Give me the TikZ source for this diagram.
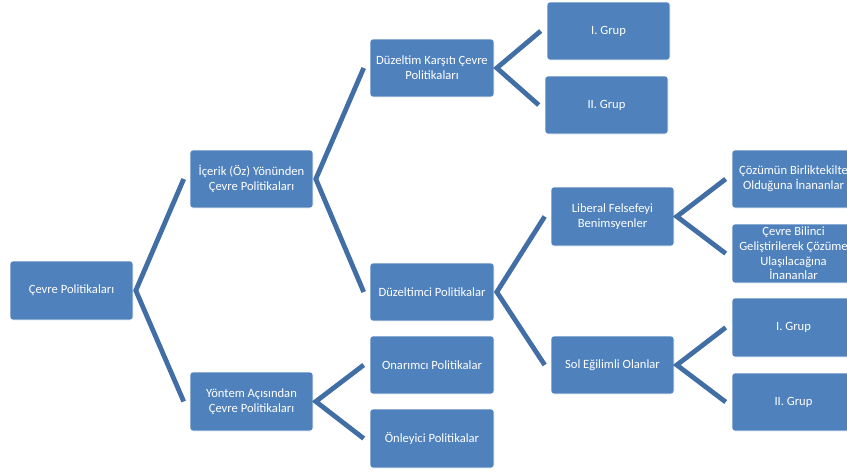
\documentclass[tikz,border=0pt]{standalone}
\usepackage{fontspec}
\setmainfont{Carlito}
\usetikzlibrary{calc}
\definecolor{boxfill}{HTML}{4F81BD}
\definecolor{linkc}{HTML}{426EA6}
\tikzset{
  box/.style={draw=white, line width=0.6pt, fill=boxfill, rounded corners=3pt,
    text=white, align=center, minimum width=123pt, minimum height=58pt,
    inner sep=2pt, font=\fontsize{12.6}{14.7}\selectfont},
  link/.style={draw=linkc, line width=4.8pt, line join=miter, line cap=butt}
}
\begin{document}
\begin{tikzpicture}[x=1pt,y=-1pt]
\useasboundingbox (0,0) rectangle (847,472);
\clip (0,0) rectangle (847,472);
\node[box, minimum height=59pt] (root) at (71.5,290.5) {Çevre Politikaları};
\node[box] (icerik) at (251.5,179) {İçerik (Öz) Yönünden\\Çevre Politikaları};
\node[box, minimum height=59pt] (yontem) at (251.5,401.5) {Yöntem Açısından\\Çevre Politikaları};
\node[box, minimum width=124pt] (karsiti) at (432,68) {Düzeltim Karşıtı Çevre\\Politikaları};
\node[box] (g1) at (608.5,31) {I. Grup};
\node[box] (g2) at (606.5,105) {II. Grup};
\node[box, minimum width=124pt] (duz) at (432,292) {Düzeltimci Politikalar};
\node[box, minimum width=124pt] (onar) at (432,365) {Onarımcı Politikalar};
\node[box, minimum width=124pt, minimum height=59pt] (onley) at (432,438.5) {Önleyici Politikalar};
\node[box, minimum height=59pt] (lib) at (612.5,216.5) {Liberal Felsefeyi\\Benimsyenler};
\node[box] (sol) at (612.5,365) {Sol Eğilimli Olanlar};
\node[box] (coz) at (793.5,179) {Çözümün Birliktekilte\\Olduğuna İnananlar};
\node[box, minimum height=59pt] (bil) at (793.5,253.5) {Çevre Bilinci\\Geliştirilerek Çözüme\\Ulaşılacağına\\İnananlar};
\node[box, minimum height=59pt] (g3) at (793.5,327.5) {I. Grup};
\node[box] (g4) at (793.5,402) {II. Grup};
\foreach \p/\a/\b in {root/icerik/yontem, icerik/karsiti/duz, yontem/onar/onley,
  karsiti/g1/g2, duz/lib/sol, lib/coz/bil, sol/g3/g4}{
  \draw[link] ($(\a.west)+(-6,0)$) -- ($(\p.east)+(2.5,0)$) -- ($(\b.west)+(-6,0)$);
}
\end{tikzpicture}
\end{document}
